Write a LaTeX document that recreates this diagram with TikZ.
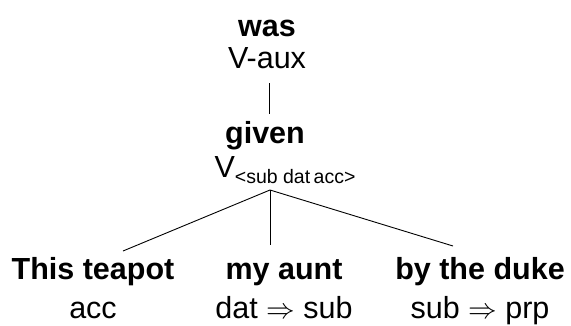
\documentclass[tikz,border=0pt]{standalone}
\usepackage{fontspec}
\setmainfont{Liberation Sans}
\usepackage{tikz}

\begin{document}
\begin{tikzpicture}[x=1pt,y=-1pt,font=\fontsize{30.5}{32}\selectfont,
  every node/.style={inner sep=0pt,anchor=base},
  word/.style={font=\fontsize{30.5}{32}\selectfont\bfseries}]
\useasboundingbox (0,0) rectangle (571,325);
\node[word] (was) at (267,36) {was};
\node (aux) at (267,68) {V-aux};
\node[word] (given) at (265,143) {given};
\node (verb) at (285,177) {V\raisebox{-6pt}{\fontsize{19.5}{20}\selectfont<sub dat\hspace{-2pt} acc>}};
\node[word] (teapot) at (93,279) {This teapot};
\node (acc) at (93,318) {acc};
\node[word] (aunt) at (284,279) {my aunt};
\node (dat) at (284,318) {dat \scalebox{1.15}{$\Rightarrow$} sub};
\node[word] (duke) at (480,279) {by the duke};
\node (sub) at (480,318) {sub \scalebox{1.15}{$\Rightarrow$} prp};
\coordinate (top) at (269,83);
\coordinate (bot) at (269,114);
\coordinate (apex) at (270,190);
\coordinate (left) at (123,251);
\coordinate (mid) at (270,245);
\coordinate (right) at (453,246);
\draw[line width=0.9pt] (top) -- (bot);
\draw[line width=0.9pt] (left) -- (apex) -- (right);
\draw[line width=0.9pt] (apex) -- (mid);
\end{tikzpicture}
\end{document}
